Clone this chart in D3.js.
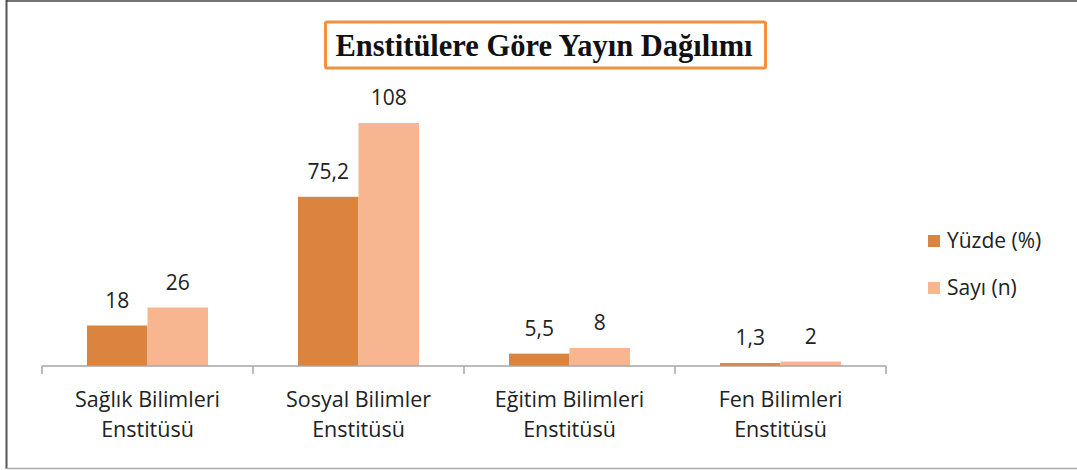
<!DOCTYPE html>
<html>
<head>
<meta charset="utf-8">
<script src="https://cdn.jsdelivr.net/npm/d3@7"></script>
<style>
  html, body { margin: 0; padding: 0; background: #fff; }
  svg { display: block; }
</style>
</head>
<body>
<svg id="chart" width="1077" height="470"></svg>
<script>
// Publications by institute
const categories = [
  ["Sağlık Bilimleri", "Enstitüsü"],
  ["Sosyal Bilimler", "Enstitüsü"],
  ["Eğitim Bilimleri", "Enstitüsü"],
  ["Fen Bilimleri", "Enstitüsü"]
];
const seriesNames = ["Yüzde (%)", "Sayı (n)"];
const percentValues = [18, 75.2, 5.5, 1.3];
const countValues = [26, 108, 8, 2];
const seriesColors = ["#DA843F", "#F8B690"];
const titleText = "Enstitülere Göre Yayın Dağılımı";

const fmt = v => String(v).replace(".", ",");
const textFont = "'Open Sans', sans-serif";

const svg = d3.select("#chart");
const W = 1077, H = 470;

// outer frame
svg.append("line").attr("x1", 6.5).attr("x2", 6.5).attr("y1", 0).attr("y2", 469)
  .attr("stroke", "#555").attr("stroke-width", 2);
svg.append("line").attr("x1", 6).attr("x2", W).attr("y1", 1).attr("y2", 1)
  .attr("stroke", "#444").attr("stroke-width", 1.5);
svg.append("line").attr("x1", 6).attr("x2", W).attr("y1", 468.5).attr("y2", 468.5)
  .attr("stroke", "#aaa").attr("stroke-width", 1.5);

// title in an orange box
svg.append("rect").attr("x", 325.5).attr("y", 22).attr("width", 440).attr("height", 46)
  .attr("fill", "#fff").attr("stroke", "#F39140").attr("stroke-width", 3).attr("rx", 1.5);
svg.append("text").attr("x", 544).attr("y", 56)
  .attr("text-anchor", "middle")
  .attr("font-family", "'Liberation Serif', 'Times New Roman', serif")
  .attr("font-weight", "bold").attr("font-size", 30.5).attr("fill", "#111")
  .text(titleText);

// scales
const x0 = d3.scaleBand().domain(d3.range(categories.length)).range([42, 886]);
const x1 = d3.scaleBand().domain(d3.range(seriesNames.length)).range([0, 121]);
const y = d3.scaleLinear().domain([0, 120]).range([366, 96]);
const groupOffset = (x0.bandwidth() - 121) / 2;

const data = categories.map((c, i) => [percentValues[i], countValues[i]]);

const groups = svg.append("g").selectAll("g").data(data).join("g")
  .attr("transform", (d, i) => `translate(${x0(i) + groupOffset},0)`);

groups.selectAll("rect").data(d => d).join("rect")
  .attr("x", (d, j) => x1(j))
  .attr("width", x1.bandwidth())
  .attr("y", d => y(d))
  .attr("height", d => y(0) - y(d))
  .attr("fill", (d, j) => seriesColors[j]);

groups.selectAll("text.val").data(d => d).join("text")
  .attr("class", "val")
  .attr("x", (d, j) => x1(j) + x1.bandwidth() / 2)
  .attr("y", d => y(d) - 18)
  .attr("text-anchor", "middle")
  .attr("font-family", textFont)
  .attr("font-size", 21).attr("fill", "#222")
  .text(d => fmt(d));

// category axis with boundary ticks
const axisG = svg.append("g").attr("transform", "translate(0,366)");
axisG.append("path").attr("fill", "none").attr("stroke", "#a6a6a6").attr("stroke-width", 1.5)
  .attr("d", `M${x0.range()[0]},0H${x0.range()[1]}`);
const tickPos = d3.range(categories.length + 1).map(i => i < categories.length ? x0(i) : x0(i - 1) + x0.bandwidth());
axisG.selectAll("line.tk").data(tickPos).join("line")
  .attr("class", "tk")
  .attr("x1", d => d).attr("x2", d => d).attr("y1", 0).attr("y2", 8)
  .attr("stroke", "#a6a6a6").attr("stroke-width", 1.5);

// category labels
const labels = svg.append("g").selectAll("text").data(categories).join("text")
  .attr("text-anchor", "middle")
  .attr("font-family", textFont)
  .attr("font-size", 21.5).attr("fill", "#222")
  .attr("transform", (d, i) => `translate(${x0(i) + x0.bandwidth() / 2},407)`);
labels.selectAll("tspan").data(d => d).join("tspan")
  .attr("x", 0).attr("y", (d, k) => k * 30)
  .text(d => d);

// legend
const legend = svg.append("g").selectAll("g").data(seriesNames).join("g")
  .attr("transform", (d, i) => `translate(928,${235 + i * 47})`);
legend.append("rect").attr("width", 12).attr("height", 12)
  .attr("fill", (d, i) => seriesColors[i]);
legend.append("text").attr("x", 19).attr("y", 13)
  .attr("font-family", textFont)
  .attr("font-size", 21).attr("fill", "#222")
  .text(d => d);
</script>
</body>
</html>
